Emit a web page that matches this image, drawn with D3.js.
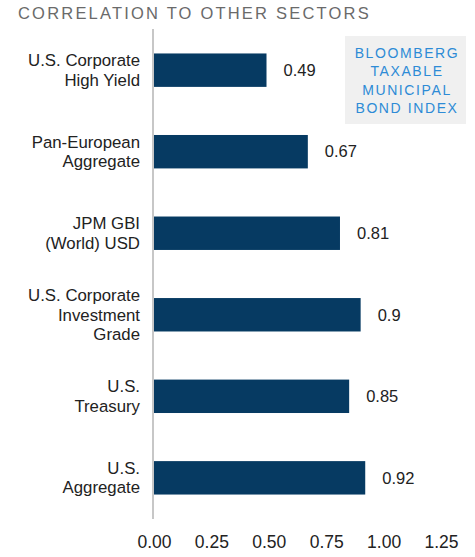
<!DOCTYPE html>
<html>
<head>
<meta charset="utf-8">
<script src="https://cdn.jsdelivr.net/npm/d3@7"></script>
<style>
  body { margin: 0; background: #fff; }
  svg { font-family: "Liberation Sans", Arial, sans-serif; }
</style>
</head>
<body>
<div id="main"></div>
<script>
const ctx = {
    WIDTH: 475,
    HEIGHT: 557,
};

// data
const categories = [
    ["U.S. Corporate", "High Yield"],
    ["Pan-European", "Aggregate"],
    ["JPM GBI", "(World) USD"],
    ["U.S. Corporate", "Investment", "Grade"],
    ["U.S.", "Treasury"],
    ["U.S.", "Aggregate"]
];
const values = [0.49, 0.67, 0.81, 0.9, 0.85, 0.92];
const tickValues = [0, 0.25, 0.5, 0.75, 1.0, 1.25];
const titleText = "CORRELATION TO OTHER SECTORS";
const legendLines = ["BLOOMBERG", "TAXABLE", "MUNICIPAL", "BOND INDEX"];

function createViz() {
    let svg = d3.select("#main").append("svg")
        .attr("width", ctx.WIDTH)
        .attr("height", ctx.HEIGHT);

    let x = d3.scaleLinear()
        .domain([0, 1.25])
        .range([154, 441]);

    let y = d3.scaleBand()
        .domain(d3.range(values.length))
        .range([29, 519])
        .paddingInner(0.59)
        .paddingOuter(0.3);

    // title
    svg.append("text")
        .attr("x", 18)
        .attr("y", 19)
        .style("font-size", "16.5px")
        .style("letter-spacing", "2.2px")
        .style("fill", "#6a6a6a")
        .text(titleText);

    // bars
    svg.selectAll("rect.bar")
        .data(values)
        .enter()
        .append("rect")
        .attr("class", "bar")
        .attr("x", x(0))
        .attr("y", (d, i) => y(i))
        .attr("width", d => x(d) - x(0))
        .attr("height", y.bandwidth())
        .style("fill", "#063a62");

    // baseline
    svg.append("line")
        .attr("x1", x(0) - 1)
        .attr("x2", x(0) - 1)
        .attr("y1", 29)
        .attr("y2", 519)
        .style("stroke", "#b5b5b5")
        .style("stroke-width", 1.5);

    // value labels
    svg.selectAll("text.value")
        .data(values)
        .enter()
        .append("text")
        .attr("class", "value")
        .attr("x", d => x(d) + 17)
        .attr("y", (d, i) => y(i) + y.bandwidth() / 2)
        .attr("dy", "0.35em")
        .style("font-size", "16.5px")
        .style("fill", "#222")
        .text(d => d);

    // category labels
    let lineH = 19.5;
    svg.selectAll("text.cat")
        .data(categories)
        .enter()
        .append("text")
        .attr("class", "cat")
        .attr("text-anchor", "end")
        .style("font-size", "16.8px")
        .style("fill", "#222")
        .each(function(d, i) {
            let cy = y(i) + y.bandwidth() / 2;
            let top = cy - (d.length - 1) * lineH / 2;
            d3.select(this).selectAll("tspan")
                .data(d)
                .enter()
                .append("tspan")
                .attr("x", 140)
                .attr("y", (t, j) => top + j * lineH)
                .attr("dy", "0.35em")
                .text(t => t);
        });

    // x axis
    let axis = d3.axisBottom(x)
        .tickValues(tickValues)
        .tickFormat(d3.format(".2f"))
        .tickSize(0)
        .tickPadding(0);
    let gx = svg.append("g")
        .attr("transform", "translate(0, 536)")
        .call(axis);
    gx.select(".domain").remove();
    gx.selectAll("text")
        .style("font-family", "Liberation Sans, Arial, sans-serif")
        .style("font-size", "17.5px")
        .style("fill", "#222");

    // legend box
    let lg = svg.append("g");
    lg.append("rect")
        .attr("x", 345)
        .attr("y", 36)
        .attr("width", 121)
        .attr("height", 88)
        .style("fill", "#f0f0f0");
    lg.selectAll("text")
        .data(legendLines)
        .enter()
        .append("text")
        .attr("x", 407)
        .attr("y", (d, i) => 53 + i * 18.3)
        .attr("dy", "0.35em")
        .attr("text-anchor", "middle")
        .style("font-size", "14px")
        .style("letter-spacing", "1.6px")
        .style("fill", "#2d8bd6")
        .text(d => d);
}

createViz();
</script>
</body>
</html>
